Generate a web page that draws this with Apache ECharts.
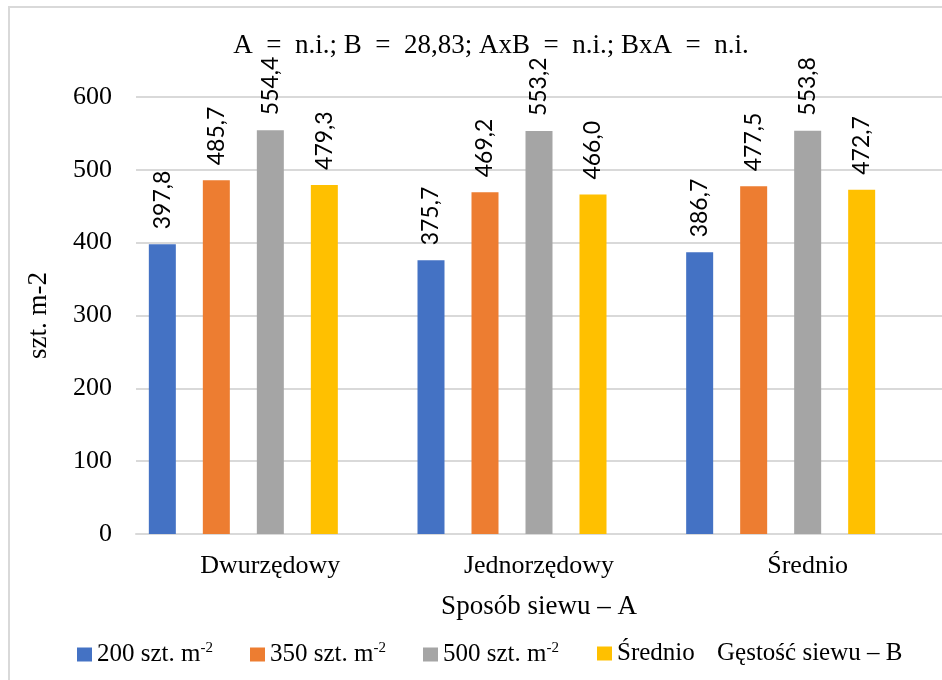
<!DOCTYPE html>
<html>
<head>
<meta charset="utf-8">
<script src="https://cdn.jsdelivr.net/npm/echarts@6/dist/echarts.min.js"></script>
<style>
  html, body { margin: 0; padding: 0; background: #fff; }
  #chart { width: 942px; height: 680px; }
</style>
</head>
<body>
<div id="chart"></div>
<script>
// Sowing method categories (axis A)
const categories = ['Dwurzędowy', 'Jednorzędowy', 'Średnio'];
// Sowing density series (axis B)
const seriesNames = ['200 szt. m-2', '350 szt. m-2', '500 szt. m-2', 'Średnio', 'Gęstość siewu – B'];
const density200 = [397.8, 375.7, 386.7];
const density350 = [485.7, 469.2, 477.5];
const density500 = [554.4, 553.2, 553.8];
const densityMean = [479.3, 466.0, 472.7];
const densityEmpty = [null, null, null];
const yTicks = [0, 100, 200, 300, 400, 500, 600];
const titleText = 'A  =  n.i.; B  =  28,83; AxB  =  n.i.; BxA  =  n.i.';

const colors = ['#4472C4', '#ED7D31', '#A5A5A5', '#FFC000', 'transparent'];
const serif = '"Liberation Serif", "Times New Roman", serif';
const sans = 'Lato, "Liberation Sans", sans-serif';

const seriesData = [density200, density350, density500, densityMean, densityEmpty];

const chart = echarts.init(document.getElementById('chart'), null, { renderer: 'canvas' });

const fmt = v => v.toFixed(1).replace('.', ',');

const series = seriesNames.map((name, i) => ({
  name: name,
  type: 'bar',
  data: seriesData[i],
  barWidth: 27,
  barGap: '100%',
  itemStyle: { color: colors[i] },
  label: {
    show: i < 4,
    position: 'top',
    rotate: 90,
    align: 'left',
    verticalAlign: 'middle',
    distance: 15,
    fontFamily: sans,
    fontSize: 23,
    color: '#000',
    formatter: p => fmt(p.value)
  }
}));

// legend text with a superscript exponent on the unit
const legendText = {
  fontFamily: serif,
  fontSize: 25,
  color: '#000',
  rich: {
    t: { fontFamily: serif, fontSize: 25, color: '#000' },
    s: { fontFamily: serif, fontSize: 15, color: '#000', verticalAlign: 'top', padding: [0, 0, 12, 0] }
  }
};
const legendFormatter = name => {
  const m = name.match(/^(.*m)-2$/);
  return m ? '{t|' + m[1] + '}{s|-2}' : '{t|' + name + '}';
};

// one legend block per entry, so each entry sits at its own spot
const legendLeft = [72, 245, 418, 592, 707];
const legends = seriesNames.map((n, i) => ({
  left: legendLeft[i],
  top: 636,
  itemWidth: i < 4 ? 15 : 0,
  itemHeight: 14,
  data: [{ name: n, icon: i < 4 ? 'rect' : 'none' }],
  formatter: legendFormatter,
  textStyle: legendText
}));

chart.setOption({
  animation: false,
  backgroundColor: '#fff',
  color: colors,
  title: {
    text: titleText,
    left: 486,
    textAlign: 'center',
    top: 27,
    textStyle: { fontFamily: serif, fontSize: 27, fontWeight: 'normal', color: '#000' }
  },
  graphic: [{
    type: 'rect',
    shape: { x: 9, y: 7, width: 1000, height: 1000 },
    style: { fill: 'none', stroke: '#d9d9d9', lineWidth: 2 },
    silent: true
  }],
  legend: legends,
  grid: { left: 136, right: 0, top: 97, bottom: 146, containLabel: false },
  xAxis: {
    type: 'category',
    data: categories,
    name: 'Sposób siewu – A',
    nameLocation: 'middle',
    nameGap: 59,
    nameTextStyle: { fontFamily: serif, fontSize: 27, color: '#000' },
    axisLine: { lineStyle: { color: '#d9d9d9', width: 2 } },
    axisTick: { show: false },
    axisLabel: { fontFamily: serif, fontSize: 26, color: '#000', margin: 19 }
  },
  yAxis: {
    type: 'value',
    min: yTicks[0],
    max: yTicks[yTicks.length - 1],
    interval: 100,
    name: 'szt. m-2',
    nameLocation: 'middle',
    nameGap: 84,
    nameTextStyle: { fontFamily: serif, fontSize: 27, color: '#000' },
    axisLine: { show: false },
    axisTick: { show: false },
    splitLine: { lineStyle: { color: '#d9d9d9', width: 2 } },
    axisLabel: { fontFamily: serif, fontSize: 26, color: '#000', margin: 24 }
  },
  series: series
});
</script>
</body>
</html>
